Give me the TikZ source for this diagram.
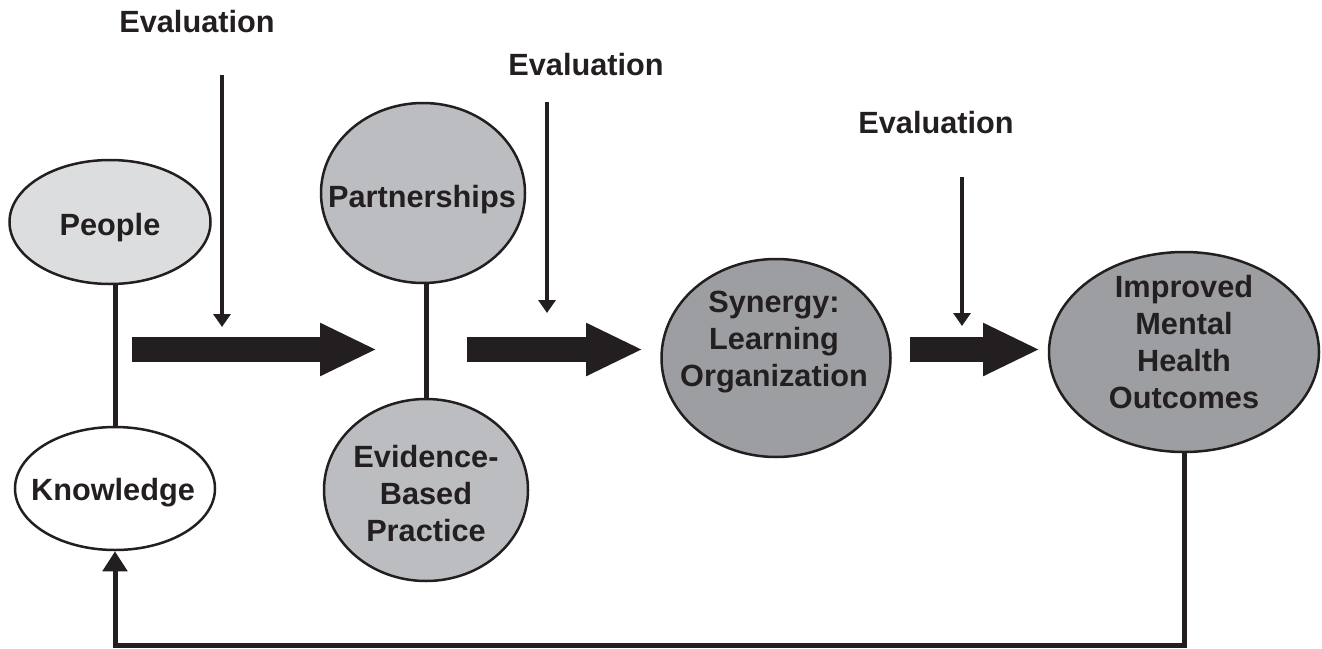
\documentclass[tikz,border=0pt]{standalone}
\usepackage{fontspec}
\setmainfont{Liberation Sans}
\usetikzlibrary{shapes.geometric,arrows.meta,calc}

\definecolor{ink}{HTML}{231F20}
\definecolor{paleGrey}{HTML}{DCDDDF}
\definecolor{midGrey}{HTML}{BCBDC0}
\definecolor{darkGrey}{HTML}{9D9EA2}

\newcommand\lblfont{\fontsize{30.7}{37}\selectfont\bfseries}

\begin{document}
\begin{tikzpicture}[x=1pt,y=-1pt,
  blob/.style={ellipse,draw=ink,line width=2.5pt,inner sep=0pt},
  lbl/.style={font=\lblfont,text=ink,inner sep=0pt,align=center},
  evalarrow/.style={draw=ink,line width=4pt,-{Triangle[length=13pt,width=17pt]}},
  blockarrow/.style={draw=ink,line width=25pt,-{Triangle[length=57pt,width=49pt]}},
  link/.style={draw=ink,line width=5pt},
  feedback/.style={draw=ink,line width=5pt,-{Triangle[length=20pt,width=24pt]}}]

\useasboundingbox (0,0) rectangle (1322,648);

% concept ellipses
\node[blob,fill=paleGrey,minimum width=201pt,minimum height=124pt] (people) at (110,222) {};
\node[blob,fill=white,minimum width=200pt,minimum height=123pt] (knowledge) at (115,488.5) {};
\node[blob,fill=midGrey,minimum width=204pt,minimum height=180pt] (partner) at (423,193) {};
\node[blob,fill=midGrey,minimum width=204pt,minimum height=182pt] (evidence) at (426,490) {};
\node[blob,fill=darkGrey,minimum width=229pt,minimum height=198pt] (synergy) at (776,358) {};
\node[blob,fill=darkGrey,minimum width=270pt,minimum height=200pt] (improved) at (1184,352) {};

% labels inside the ellipses
\node[lbl,anchor=base] (people-t) at (110,235) {People};
\node[lbl,anchor=base] (knowledge-t) at (113,500) {Knowledge};
\node[lbl,anchor=base] (partner-t) at (422,207) {Partnerships};
\node[lbl] (evidence-t) at (426,496.6) {\strut Evidence-\\\strut Based\\\strut Practice};
\node[lbl] (synergy-t) at (774,341.6) {\strut Synergy:\\\strut Learning\\\strut Organization};
\node[lbl] (improved-t) at (1184,345.1) {\strut Improved\\\strut Mental\\\strut Health\\\strut Outcomes};

% evaluation labels
\node[lbl,anchor=base] (eval1) at (197,32) {Evaluation};
\node[lbl,anchor=base] (eval2) at (586,75) {Evaluation};
\node[lbl,anchor=base] (eval3) at (936,133) {Evaluation};

% evaluation arrows
\coordinate (e1s) at (222,75);  \coordinate (e1e) at (222,327);
\coordinate (e2s) at (547,102); \coordinate (e2e) at (547,313);
\coordinate (e3s) at (962,177); \coordinate (e3e) at (962,326);
\draw[evalarrow] (e1s) -- (e1e);
\draw[evalarrow] (e2s) -- (e2e);
\draw[evalarrow] (e3s) -- (e3e);

% block arrows along the main flow
\coordinate (b1s) at (132,349.5); \coordinate (b1e) at (377,349.5);
\coordinate (b2s) at (467,349.5); \coordinate (b2e) at (643,349.5);
\coordinate (b3s) at (910,349.5); \coordinate (b3e) at (1040,349.5);
\draw[blockarrow] (b1s) -- (b1e);
\draw[blockarrow] (b2s) -- (b2e);
\draw[blockarrow] (b3s) -- (b3e);

% links between paired concepts
\draw[link] (people.south -| knowledge.north) -- (knowledge.north);
\draw[link] (partner.south -| evidence.north) -- (evidence.north);

% feedback loop back to knowledge
\coordinate (fbbase) at (0,645);
\draw[feedback] (improved.south) |- (fbbase -| knowledge.south) -- (knowledge.south);
\end{tikzpicture}
\end{document}
